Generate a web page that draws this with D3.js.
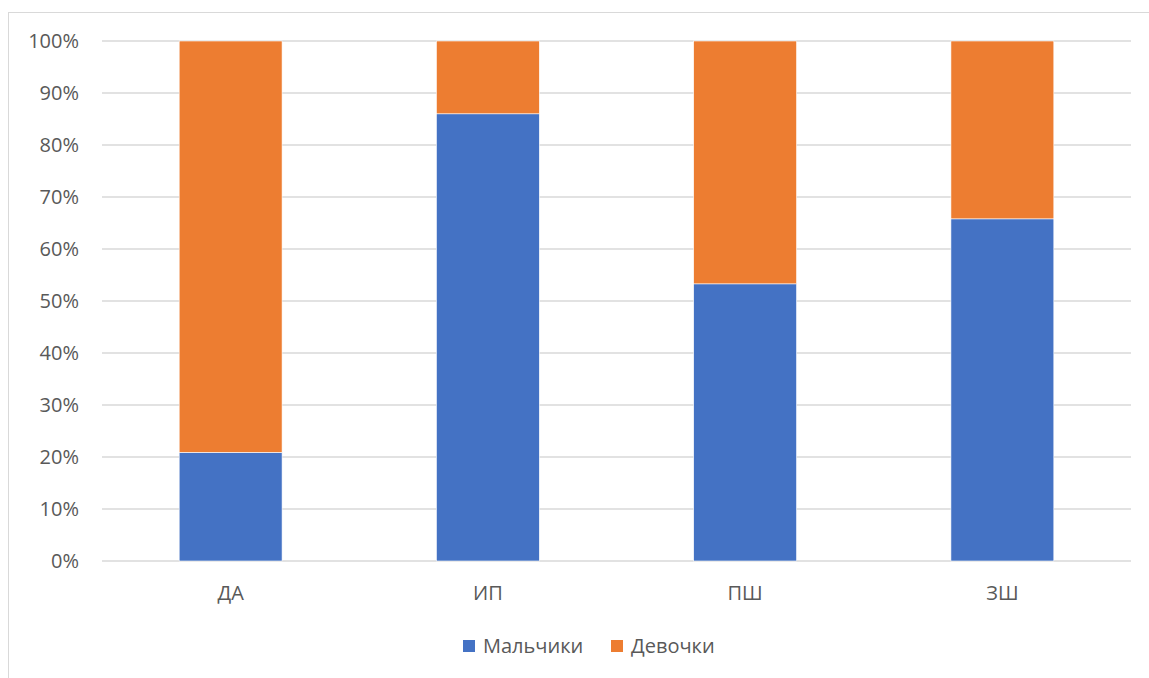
<!DOCTYPE html>
<html>
<head>
<meta charset="utf-8">
<script src="https://cdn.jsdelivr.net/npm/d3@7"></script>
<style>
  body { margin: 0; background: #fff; }
  svg { display: block; font-family: "Open Sans", "Liberation Sans", sans-serif; }
</style>
</head>
<body>
<svg id="chart" width="1149" height="678"></svg>
<script>
// data
var categories = ["ДА", "ИП", "ПШ", "ЗШ"];
var boys = [20.9, 86, 53.3, 65.8];
var girls = [79.1, 14, 46.7, 34.2];
var seriesNames = ["Мальчики", "Девочки"];
var colors = ["#4472c4", "#ed7d31"];
var yTicks = [0, 10, 20, 30, 40, 50, 60, 70, 80, 90, 100];

var svg = d3.select("#chart");

// chart border
svg.append("rect")
  .attr("x", 8.5).attr("y", 12.5)
  .attr("width", 1160).attr("height", 700)
  .attr("fill", "none")
  .attr("stroke", "#d9d9d9");

var plotLeft = 102, plotRight = 1131, plotTop = 41, plotBottom = 561;

var x = d3.scaleBand().domain(categories).range([plotLeft, plotRight]).padding(0);
var y = d3.scaleLinear().domain([0, 100]).range([plotBottom, plotTop]);

// gridlines
svg.append("g")
  .selectAll("line")
  .data(yTicks).enter()
  .append("line")
  .attr("x1", plotLeft).attr("x2", plotRight)
  .attr("y1", function (d) { return y(d); })
  .attr("y2", function (d) { return y(d); })
  .attr("stroke", "#d9d9d9")
  .attr("stroke-width", 1.3);

// y tick labels
svg.append("g")
  .selectAll("text")
  .data(yTicks).enter()
  .append("text")
  .attr("x", 79)
  .attr("y", function (d) { return y(d); })
  .attr("dy", "0.35em")
  .attr("text-anchor", "end")
  .attr("font-size", 20)
  .attr("fill", "#595959")
  .text(function (d) { return d + "%"; });

// stacked bars
var rows = categories.map(function (c, i) {
  return { cat: c, boys: boys[i], girls: girls[i] };
});
var stack = d3.stack().keys(["boys", "girls"]);
var layers = stack(rows);
var barW = x.bandwidth() / 2.5;

svg.append("g")
  .selectAll("g")
  .data(layers).enter()
  .append("g")
  .attr("fill", function (d, i) { return colors[i]; })
  .selectAll("rect")
  .data(function (d) { return d; }).enter()
  .append("rect")
  .attr("x", function (d) { return x(d.data.cat) + x.bandwidth() / 2 - barW / 2; })
  .attr("y", function (d) { return y(d[1]); })
  .attr("width", barW)
  .attr("height", function (d) { return y(d[0]) - y(d[1]); })
  .attr("stroke", "#fff")
  .attr("stroke-width", 0.6);

// category labels
svg.append("g")
  .selectAll("text")
  .data(categories).enter()
  .append("text")
  .attr("x", function (d) { return x(d) + x.bandwidth() / 2; })
  .attr("y", 593)
  .attr("dy", "0.35em")
  .attr("text-anchor", "middle")
  .attr("font-size", 20)
  .attr("fill", "#595959")
  .text(function (d) { return d; });

// legend
var legendX = [463, 611];
var legend = svg.append("g")
  .selectAll("g")
  .data(seriesNames).enter()
  .append("g")
  .attr("transform", function (d, i) { return "translate(" + legendX[i] + ",646)"; });

legend.append("rect")
  .attr("x", 0).attr("y", -6)
  .attr("width", 12).attr("height", 12)
  .attr("fill", function (d, i) { return colors[i]; });

legend.append("text")
  .attr("x", 20)
  .attr("dy", "0.35em")
  .attr("font-size", 20)
  .attr("fill", "#595959")
  .text(function (d) { return d; });
</script>
</body>
</html>
